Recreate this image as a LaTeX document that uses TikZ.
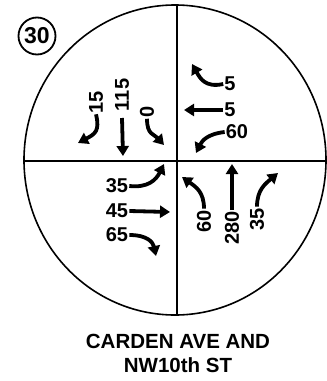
\documentclass[tikz,border=0pt]{standalone}
\usepackage{fontspec}
\setmainfont{Liberation Sans}
\usetikzlibrary{arrows.meta}
\tikzset{
  vol/.style={font=\bfseries\fontsize{20}{20}\selectfont,inner sep=1pt},
  volup/.style={vol,rotate=90},
  move/.style={line width=3.8pt,-{Triangle[length=10pt,width=12pt]}},
  street/.style={line width=1.2pt}
}
\begin{document}
\begin{tikzpicture}[x=1pt,y=-1pt]
  \useasboundingbox (0,0) rectangle (327,381);
  % intersection ring and crossing streets
  \draw[line width=1.6pt] (175,160) ellipse [x radius=151, y radius=155];
  \draw[street] (177,5) -- (177,315);
  \draw[street] (24,161) -- (326,161);
  \node[circle,draw,line width=1.8pt,minimum size=37pt,inner sep=0pt,
    font=\bfseries\fontsize{23}{23}\selectfont] (num) at (37,36) {30};
  % southbound
  \node[volup] (sbr) at (96,102) {15};
  \node[volup] (sbt) at (122,95) {115};
  \node[volup] (sbl) at (147,112) {0};
  \coordinate (sbrend) at (78,143);
  \coordinate (sbtend) at (123,156);
  \coordinate (sblend) at (164,145);
  \draw[move] (sbr.west) .. controls (100,131) and (95,134) .. (sbrend);
  \draw[move] (sbt.west |- 0,118) -- (sbtend);
  \draw[move] (sbl.west) .. controls (147,135) and (154,134) .. (sblend);
  % westbound
  \node[vol] (wbr) at (230,84) {5};
  \node[vol] (wbt) at (230,110) {5};
  \node[vol] (wbl) at (237,132) {60};
  \coordinate (wbrend) at (192,64);
  \coordinate (wbtend) at (184,110);
  \coordinate (wblend) at (196,153);
  \draw[move] (wbr.west) .. controls (205,88) and (200,78) .. (wbrend);
  \draw[move] (wbt.west) -- (wbtend);
  \draw[move] (wbl.west) .. controls (207,134) and (202,141) .. (wblend);
  % eastbound
  \node[vol] (ebl) at (117,186) {35};
  \node[vol] (ebt) at (117,211) {45};
  \node[vol] (ebr) at (117,235) {65};
  \coordinate (eblend) at (164,164);
  \coordinate (ebtend) at (170,212);
  \coordinate (ebrend) at (156,256);
  \draw[move] (ebl.east) .. controls (148,188) and (156,180) .. (eblend);
  \draw[move] (ebt.east) -- (ebtend);
  \draw[move] (ebr.east) .. controls (147,235) and (153,242) .. (ebrend);
  % northbound
  \node[volup] (nbl) at (204,221) {60};
  \node[volup] (nbt) at (232,228) {280};
  \node[volup] (nbr) at (257,219) {35};
  \coordinate (nblend) at (182,177);
  \coordinate (nbtend) at (232,164);
  \coordinate (nbrend) at (278,173);
  \draw[move] (nbl.east) .. controls (204,192) and (196,187) .. (nblend);
  \draw[move] (nbt.east) -- (nbtend);
  \draw[move] (nbr.east) .. controls (257,190) and (265,184) .. (nbrend);
  % location
  \node[align=center,font=\bfseries\fontsize{20.5}{24}\selectfont] (place) at (178,353)
    {CARDEN AVE AND\\NW10th ST};
\end{tikzpicture}
\end{document}
